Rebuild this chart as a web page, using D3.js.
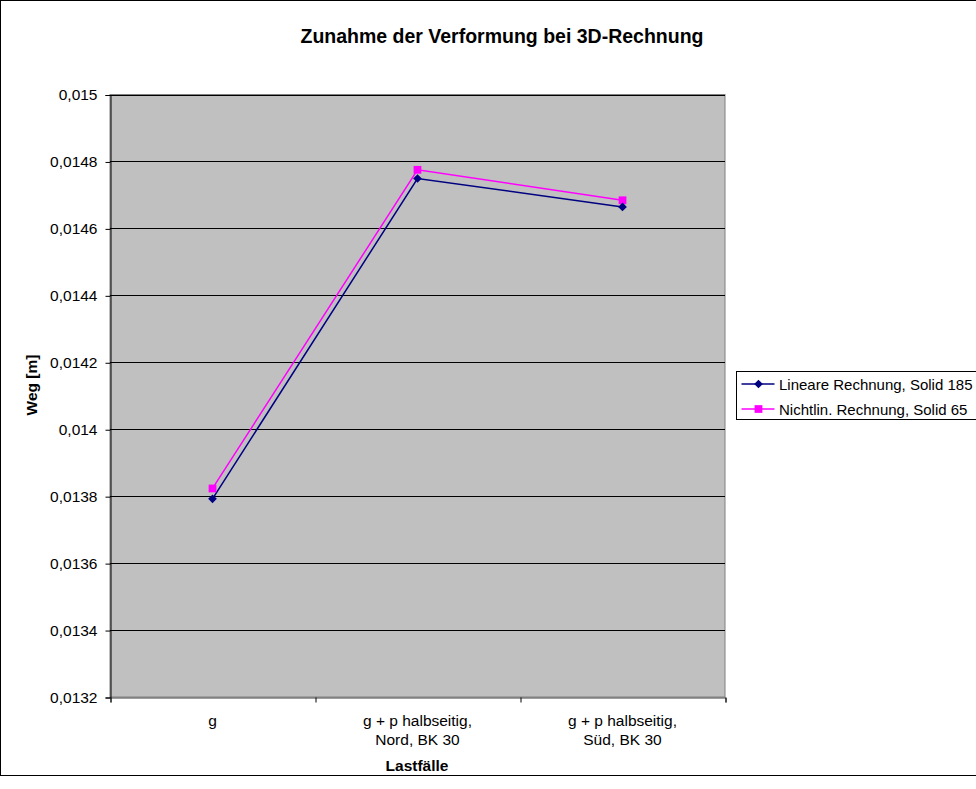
<!DOCTYPE html>
<html>
<head>
<meta charset="utf-8">
<script src="https://cdn.jsdelivr.net/npm/d3@7"></script>
<style>
  html, body { margin: 0; padding: 0; background: #fff; }
  svg { display: block; font-family: "Liberation Sans", Arial, sans-serif; }
</style>
</head>
<body>
<svg id="chart" width="976" height="789"></svg>
<script>
// Load cases along the x axis (each may wrap onto two lines)
const categories = [
  ["g"],
  ["g + p halbseitig,", "Nord, BK 30"],
  ["g + p halbseitig,", "Süd, BK 30"]
];
const seriesNames = ["Lineare Rechnung, Solid 185", "Nichtlin. Rechnung, Solid 65"];
const linearValues = [0.013792, 0.014749, 0.014664];
const nonlinearValues = [0.013823, 0.014775, 0.014684];
const yTicks = [0.0132, 0.0134, 0.0136, 0.0138, 0.014, 0.0142, 0.0144, 0.0146, 0.0148, 0.015];

const svg = d3.select("#chart");
const plot = { left: 110, right: 725, top: 94.5, bottom: 697 };
const labelSize = 15.5;

// Outer chart frame
svg.append("rect")
  .attr("x", 0.5).attr("y", 0.5)
  .attr("width", 990).attr("height", 775)
  .attr("fill", "#fff").attr("stroke", "#000").attr("stroke-width", 1);

const x = d3.scaleBand()
  .domain(d3.range(categories.length))
  .range([plot.left, plot.right]);

const y = d3.scaleLinear()
  .domain([0.0132, 0.015])
  .range([plot.bottom, plot.top]);

// Plot area background
svg.append("rect")
  .attr("x", plot.left).attr("y", plot.top)
  .attr("width", plot.right - plot.left).attr("height", plot.bottom - plot.top)
  .attr("fill", "#c0c0c0").attr("stroke", "#808080").attr("stroke-width", 1);

// Horizontal gridlines
svg.append("g")
  .selectAll("line")
  .data(yTicks.slice(1))
  .join("line")
  .attr("x1", plot.left).attr("x2", plot.right)
  .attr("y1", d => Math.round(y(d)) + 0.5).attr("y2", d => Math.round(y(d)) + 0.5)
  .attr("stroke", "#000").attr("stroke-width", 1);

const fmt = d => String(+d.toFixed(4)).replace(".", ",");

// Y axis
const yAxis = svg.append("g")
  .attr("transform", `translate(${plot.left + 0.5},0.5)`)
  .call(d3.axisLeft(y).tickValues(yTicks).tickFormat(fmt).tickSize(5).tickPadding(8));
yAxis.select(".domain").attr("stroke", "#000");
yAxis.selectAll(".tick line").attr("stroke", "#000");
yAxis.selectAll(".tick text").attr("font-size", labelSize).attr("fill", "#000")
  .attr("font-family", "Liberation Sans, Arial, sans-serif");

// X axis
const xAxis = svg.append("g")
  .attr("transform", `translate(0.5,${Math.round(plot.bottom) + 0.5})`)
  .call(d3.axisBottom(d3.scaleLinear().domain([0, 3]).range([plot.left, plot.right]))
    .tickValues([0, 1, 2, 3]).tickSize(5).tickFormat(""));
xAxis.select(".domain").attr("stroke", "#404040");
xAxis.selectAll(".tick line").attr("stroke", "#000");

// Category labels
svg.append("g")
  .selectAll("text")
  .data(categories)
  .join("text")
  .attr("x", (d, i) => x(i) + x.bandwidth() / 2)
  .attr("y", 726)
  .attr("text-anchor", "middle")
  .attr("font-size", labelSize)
  .attr("fill", "#000")
  .each(function(lines) {
    d3.select(this).selectAll("tspan")
      .data(lines)
      .join("tspan")
      .attr("x", d3.select(this).attr("x"))
      .attr("dy", (l, j) => j === 0 ? 0 : 19)
      .text(l => l);
  });

// Title and axis titles
svg.append("text")
  .attr("x", 502).attr("y", 43)
  .attr("text-anchor", "middle")
  .attr("font-size", 19.5).attr("font-weight", "bold")
  .text("Zunahme der Verformung bei 3D-Rechnung");

svg.append("text")
  .attr("x", 417).attr("y", 771)
  .attr("text-anchor", "middle")
  .attr("font-size", labelSize).attr("font-weight", "bold")
  .text("Lastfälle");

svg.append("text")
  .attr("transform", `translate(37,385) rotate(-90)`)
  .attr("text-anchor", "middle")
  .attr("font-size", labelSize).attr("font-weight", "bold")
  .text("Weg [m]");

// Series
const cx = i => x(i) + x.bandwidth() / 2;
const line = d3.line().x((d, i) => cx(i)).y(d => y(d));
const series = [
  { name: seriesNames[0], values: linearValues, color: "#000080", symbol: d3.symbolSquare, size: 38, rotate: 45 },
  { name: seriesNames[1], values: nonlinearValues, color: "#ff00ff", symbol: d3.symbolSquare, size: 60, rotate: 0 }
];

// Draw the nonlinear series first so the linear one sits on top
[series[1], series[0]].forEach(s => {
  svg.append("path")
    .datum(s.values)
    .attr("d", line)
    .attr("fill", "none")
    .attr("stroke", s.color)
    .attr("stroke-width", 1.5);
});
[series[1], series[0]].forEach(s => {
  svg.append("g")
    .selectAll("path")
    .data(s.values)
    .join("path")
    .attr("transform", (d, i) => `translate(${cx(i)},${y(d)}) rotate(${s.rotate})`)
    .attr("d", d3.symbol().type(s.symbol).size(s.size))
    .attr("fill", s.color);
});

// Legend
const legend = svg.append("g").attr("transform", "translate(736.5,371.5)");
legend.append("rect")
  .attr("width", 260).attr("height", 48)
  .attr("fill", "#fff").attr("stroke", "#000").attr("stroke-width", 1);
series.forEach((s, i) => {
  const row = legend.append("g").attr("transform", `translate(0,${12.5 + i * 25})`);
  row.append("line")
    .attr("x1", 5).attr("x2", 38)
    .attr("stroke", s.color).attr("stroke-width", 1.5);
  row.append("path")
    .attr("transform", `translate(22,0) rotate(${s.rotate})`)
    .attr("d", d3.symbol().type(s.symbol).size(s.size))
    .attr("fill", s.color);
  row.append("text")
    .attr("x", 42.5).attr("y", 5.5)
    .attr("font-size", 15)
    .text(s.name);
});
</script>
</body>
</html>
